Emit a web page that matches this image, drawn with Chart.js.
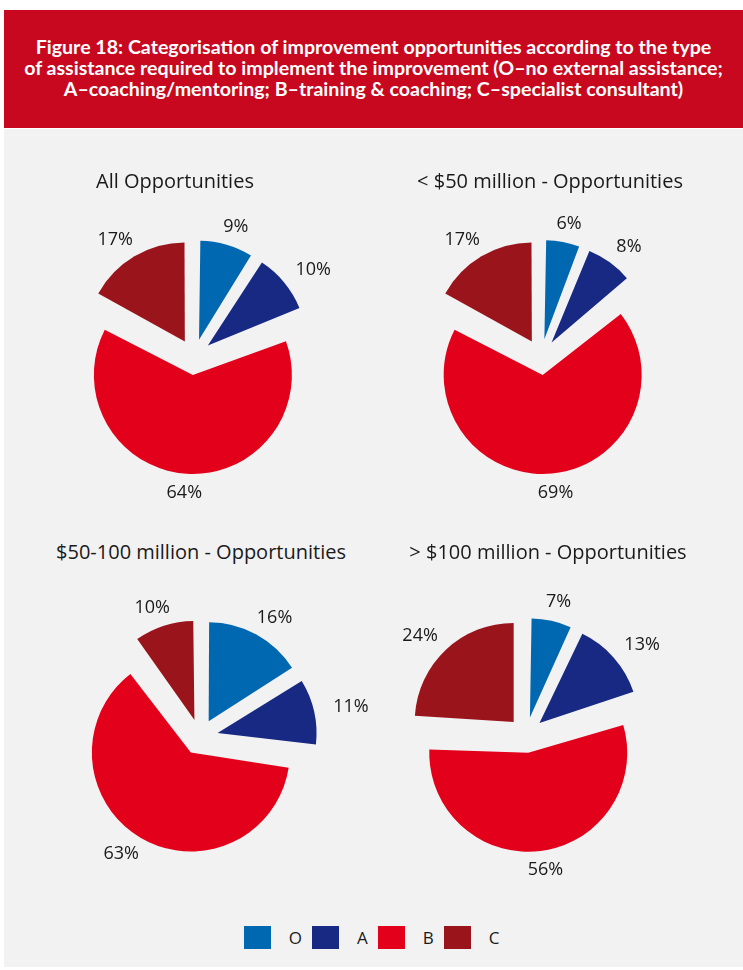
<!DOCTYPE html>
<html>
<head>
<meta charset="utf-8">
<script src="https://cdn.jsdelivr.net/npm/chart.js@4.4.1/dist/chart.umd.min.js"></script>
<style>
  body { margin: 0; background: #fff; width: 743px; height: 970px; position: relative; overflow: hidden; }
  #header {
    position: absolute; left: 4px; top: 10px; width: 739px; height: 118px;
    background: #c8081e; color: #fff; text-align: center;
    font: bold 19.6px Lato, sans-serif; line-height: 21px;
    box-sizing: border-box; padding-top: 26px;
  }
  #panel { position: absolute; left: 4px; top: 129px; width: 739px; height: 838px; background: #f2f2f2; }
  .pieTitle {
    position: absolute; transform: translate(-50%, -50%); white-space: nowrap;
    font: 20px "Open Sans", sans-serif; color: #1a1a1a;
  }
  .pieBox { position: absolute; width: 360px; height: 340px; }
  #legend {
    position: absolute; top: 926px; left: 0; width: 743px; height: 23px;
    display: flex; justify-content: center; align-items: center;
    font: 17px "Open Sans", sans-serif; color: #1a1a1a;
  }
  #legend .item { display: flex; align-items: center; margin: 0 5px; }
  #legend .swatch { width: 27px; height: 23px; margin-right: 18px; }
</style>
</head>
<body>
<div id="header">Figure 18: Categorisation of improvement opportunities according to the type<br>of assistance required to implement the improvement (O–no external assistance;<br>A–coaching/mentoring; B–training &amp; coaching; C–specialist consultant)</div>
<div id="panel"></div>
<div id="legend"></div>

<script>
// assistance types, in drawing order (clockwise from 12 o'clock)
const categories = ['O', 'A', 'B', 'C'];
const colours = ['#0068b0', '#172983', '#e3001b', '#9a141c'];

const pieTitles = [
    'All Opportunities',
    '< $50 million - Opportunities',
    '$50-100 million - Opportunities',
    '> $100 million - Opportunities'
];

// share of opportunities (%) per assistance type
const allOpps = [9, 10, 64, 17];
const under50 = [6, 8, 69, 17];
const from50to100 = [16, 11, 63, 10];
const over100 = [7, 13, 56, 24];

const pieValues = [allOpps, under50, from50to100, over100];

// where each pie sits on the page
const pieCentres = [[194, 357], [541, 357], [200, 737], [526, 735]];
const titleCentres = [[175, 180], [550, 180], [201, 551], [548, 551]];

// chart.js moves an arc by offset / 4, so this gives ~18px of explosion
const sliceOffset = 72;

// chart.js also grows big exploded slices by the offset; pull them back
// to the common radius while drawing so every slice has the same size
const evenRadius = {
    id: 'evenRadius',
    beforeDatasetDraw(chart) {
        chart.getDatasetMeta(0).data.forEach(arc => {
            const fix = 1 - Math.sin(Math.min(Math.PI, arc.circumference || 0));
            arc._baseRadius = arc.outerRadius;
            arc.outerRadius -= (arc.options.offset / 4) * fix;
        });
    },
    afterDatasetDraw(chart) {
        chart.getDatasetMeta(0).data.forEach(arc => {
            arc.outerRadius = arc._baseRadius;
        });
    }
};

// percentage labels just outside each exploded slice
const outsideLabels = {
    id: 'outsideLabels',
    afterDatasetsDraw(chart) {
        const ctx = chart.ctx;
        const meta = chart.getDatasetMeta(0);
        const values = chart.data.datasets[0].data;
        ctx.save();
        ctx.font = '18px "Open Sans"';
        ctx.fillStyle = '#1a1a1a';
        ctx.textAlign = 'center';
        ctx.textBaseline = 'middle';
        meta.data.forEach((arc, i) => {
            const p = arc.getProps(['x', 'y', 'startAngle', 'endAngle', 'outerRadius'], true);
            const mid = (p.startAngle + p.endAngle) / 2;
            const text = values[i] + '%';
            const halfW = ctx.measureText(text).width / 2;
            const dist = p.outerRadius + arc.options.offset / 4 + 10;
            const cos = Math.cos(mid), sin = Math.sin(mid);
            ctx.fillText(text, p.x + cos * (dist + halfW + 10), p.y + sin * (dist + 9));
        });
        ctx.restore();
    }
};

pieValues.forEach((values, n) => {
    const [cx, cy] = pieCentres[n];
    const box = document.createElement('div');
    box.className = 'pieBox';
    box.style.left = (cx - 180) + 'px';
    box.style.top = (cy - 170) + 'px';
    const canvas = document.createElement('canvas');
    canvas.width = 360;
    canvas.height = 340;
    box.appendChild(canvas);
    document.body.appendChild(box);

    const title = document.createElement('div');
    title.className = 'pieTitle';
    title.textContent = pieTitles[n];
    title.style.left = titleCentres[n][0] + 'px';
    title.style.top = titleCentres[n][1] + 'px';
    document.body.appendChild(title);

    new Chart(canvas.getContext('2d'), {
        type: 'pie',
        data: {
            labels: categories,
            datasets: [{
                data: values,
                backgroundColor: colours,
                borderWidth: 0,
                offset: sliceOffset
            }]
        },
        options: {
            responsive: false,
            animation: false,
            radius: 99,
            plugins: {
                legend: { display: false },
                tooltip: { enabled: false }
            }
        },
        plugins: [evenRadius, outsideLabels]
    });
});

// legend row
const legend = document.getElementById('legend');
categories.forEach((cat, i) => {
    const item = document.createElement('div');
    item.className = 'item';
    item.innerHTML = '<div class="swatch" style="background:' + colours[i] + '"></div><span>' + cat + '</span>';
    legend.appendChild(item);
});
</script>
</body>
</html>
